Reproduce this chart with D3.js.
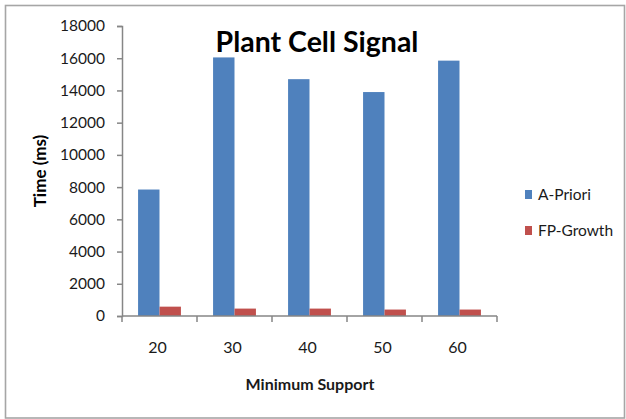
<!DOCTYPE html>
<html>
<head>
<meta charset="utf-8">
<script src="https://cdn.jsdelivr.net/npm/d3@7"></script>
<style>
  html, body { margin: 0; padding: 0; background: #fff; }
  svg { display: block; }
  text { font-family: Lato, "Open Sans", sans-serif; }
</style>
</head>
<body>
<svg id="chart" width="626" height="419"></svg>
<script>
// Run times (ms) for each minimum-support level
const categories = ["20", "30", "40", "50", "60"];
const seriesNames = ["A-Priori", "FP-Growth"];
const aprioriTimes = [7850, 16050, 14700, 13900, 15850];
const fpGrowthTimes = [580, 460, 460, 400, 400];
const yTicks = [0, 2000, 4000, 6000, 8000, 10000, 12000, 14000, 16000, 18000];
const seriesColors = ["#4F81BD", "#C0504D"];

const seriesValues = [aprioriTimes, fpGrowthTimes];
const rows = categories.map((c, i) => ({
  category: c,
  values: seriesNames.map((s, j) => ({ series: s, value: seriesValues[j][i] }))
}));

const svg = d3.select("#chart");
const plot = { left: 122, right: 497, top: 26, bottom: 316 };

// outer frame
svg.append("rect")
  .attr("x", 5.5).attr("y", 5.5)
  .attr("width", 619).attr("height", 412.5)
  .attr("fill", "#fff")
  .attr("stroke", "#a6a6a6")
  .attr("stroke-width", 1.6);

const x0 = d3.scaleBand().domain(categories).range([plot.left, plot.right]).padding(0);
const x1 = d3.scaleBand().domain(seriesNames).range([0, x0.bandwidth()])
  .paddingInner(0).paddingOuter(0.75);
const y = d3.scaleLinear().domain([0, 18000]).range([plot.bottom, plot.top]);
const color = d3.scaleOrdinal().domain(seriesNames).range(seriesColors);

// bars
const groups = svg.append("g").selectAll("g")
  .data(rows).join("g")
  .attr("transform", d => `translate(${x0(d.category)},0)`);
groups.selectAll("rect")
  .data(d => d.values).join("rect")
  .attr("x", d => x1(d.series))
  .attr("y", d => y(d.value))
  .attr("width", x1.bandwidth())
  .attr("height", d => y(0) - y(d.value))
  .attr("fill", d => color(d.series));

// y axis
const yAxis = svg.append("g")
  .attr("transform", `translate(${plot.left},0)`)
  .call(d3.axisLeft(y).tickValues(yTicks).tickFormat(d3.format("d")).tickSize(5).tickPadding(12));
yAxis.select(".domain").attr("stroke", "#868686").attr("stroke-width", 1.5);
yAxis.selectAll(".tick line").attr("stroke", "#868686").attr("stroke-width", 1.5);
yAxis.selectAll(".tick text")
  .attr("font-size", 15.5).attr("fill", "#1a1a1a")
  .style("font-family", "Lato, sans-serif");

// x axis: baseline with tick marks at category boundaries
const xAxisG = svg.append("g");
xAxisG.append("line")
  .attr("x1", plot.left).attr("x2", plot.right)
  .attr("y1", y(0)).attr("y2", y(0))
  .attr("stroke", "#868686").attr("stroke-width", 1.5);
const bounds = categories.map(c => x0(c)).concat([x0(categories[categories.length - 1]) + x0.bandwidth()]);
xAxisG.selectAll("line.tk").data(bounds).join("line")
  .attr("class", "tk")
  .attr("x1", d => d).attr("x2", d => d)
  .attr("y1", y(0)).attr("y2", y(0) + 6)
  .attr("stroke", "#868686").attr("stroke-width", 1.5);
xAxisG.selectAll("text").data(categories).join("text")
  .attr("x", d => x0(d) + x0.bandwidth() / 2 - 2)
  .attr("y", 353)
  .attr("text-anchor", "middle")
  .attr("font-size", 16)
  .attr("fill", "#1a1a1a")
  .text(d => d);

// titles
svg.append("text")
  .attr("x", 317).attr("y", 52)
  .attr("text-anchor", "middle")
  .attr("font-size", 28.5).attr("font-weight", "bold")
  .attr("fill", "#000")
  .text("Plant Cell Signal");

svg.append("text")
  .attr("x", 310).attr("y", 390)
  .attr("text-anchor", "middle")
  .attr("font-size", 16).attr("font-weight", "bold")
  .attr("fill", "#1a1a1a")
  .text("Minimum Support");

svg.append("text")
  .attr("transform", "translate(46,171) rotate(-90)")
  .attr("text-anchor", "middle")
  .attr("font-size", 17).attr("font-weight", "bold")
  .attr("fill", "#000")
  .text("Time (ms)");

// legend
const legend = svg.append("g").selectAll("g")
  .data(seriesNames).join("g")
  .attr("transform", (d, i) => `translate(525,${190 + i * 36})`);
legend.append("rect")
  .attr("width", 7).attr("height", 9)
  .attr("fill", d => color(d));
legend.append("text")
  .attr("x", 13).attr("y", 10)
  .attr("font-size", 15.5)
  .attr("fill", "#1a1a1a")
  .text(d => d);
</script>
</body>
</html>
